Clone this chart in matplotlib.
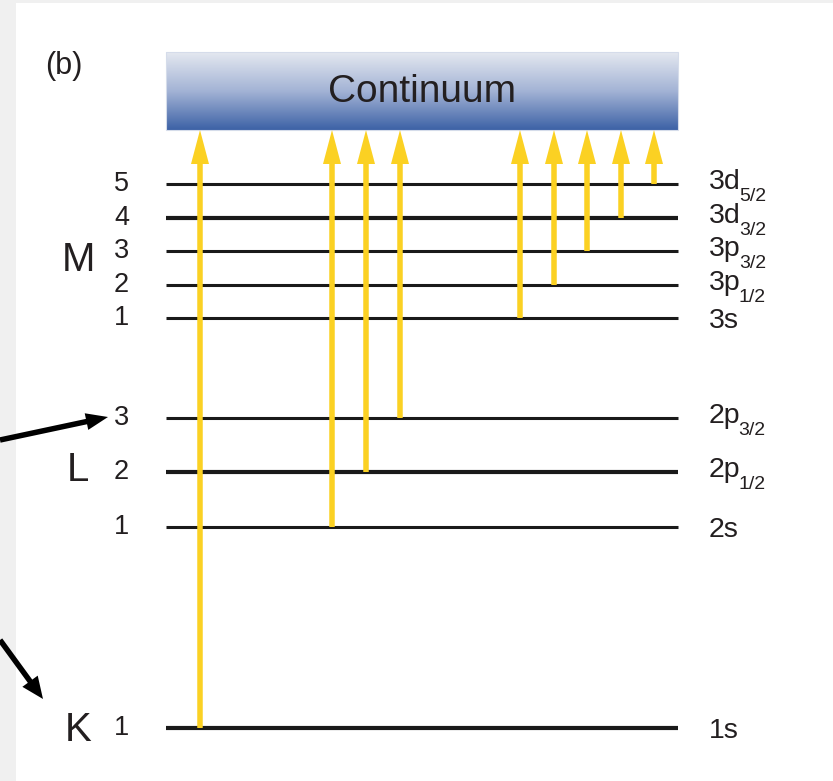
import numpy as np
import matplotlib
matplotlib.use("Agg")
import matplotlib.pyplot as plt
from matplotlib.colors import LinearSegmentedColormap
from matplotlib.patches import Rectangle

plt.rcParams['font.family'] = ['Liberation Sans', 'DejaVu Sans']

# level data (diagram units = pixels from top)
level_y = [728, 527, 472, 418, 318, 285, 251, 218, 184]
level_num = ['1', '1', '2', '3', '1', '2', '3', '4', '5']
level_main = ['1s', '2s', '2p', '2p', '3s', '3p', '3p', '3d', '3d']
level_sub = ['', '', '1/2', '3/2', '', '1/2', '3/2', '3/2', '5/2']
level_lw = [3.0, 2.2, 3.0, 2.2, 2.2, 2.2, 2.2, 3.0, 2.2]
arrow_x = [200, 332, 366, 400, 520, 554, 587, 621, 654]
shell_names = ['K', 'L', 'M']
shell_y = [730, 470, 260]

x0, x1 = 166, 678
cont_top, cont_bot = 52, 130
yellow = '#fbd123'
ink = '#231f20'

fig = plt.figure(figsize=(8.33, 7.81), dpi=100, facecolor='#f0f0f0')
ax = fig.add_axes([0, 0, 1, 1])
ax.set_xlim(0, 833)
ax.set_ylim(781, 0)
ax.axis('off')

ax.add_patch(Rectangle((16, 3), 833, 790, facecolor='white', edgecolor='none', zorder=0))

# continuum gradient
cmap = LinearSegmentedColormap.from_list('cont', ['#e4e8f0', '#a3b3d5', '#3d62a6'])
grad = np.linspace(0, 1, 200).reshape(-1, 1)
ax.imshow(grad, cmap=cmap, aspect='auto', extent=[x0, x1, cont_bot, cont_top], zorder=1)
ax.add_patch(Rectangle((x0, cont_top), x1 - x0, cont_bot - cont_top, fill=False,
                       edgecolor='#d5dcea', lw=0.8, zorder=2))
ax.text((x0 + x1) / 2, 92, 'Continuum', fontsize=28, ha='center', va='center',
        color=ink, zorder=3)

renderer = fig.canvas.get_renderer()

# levels
for y, n, main, sub, lw in zip(level_y, level_num, level_main, level_sub, level_lw):
    ax.plot([x0, x1], [y, y], color='#1a1a1a', lw=lw, solid_capstyle='butt', zorder=2)
    ax.text(129, y, n, fontsize=19.5, ha='right', va='center', color=ink)
    base = y + 5 if sub else y + 10
    t = ax.text(709, base, main, fontsize=20.5, ha='left', va='baseline', color=ink)
    if sub:
        bb = t.get_window_extent(renderer)
        xr = ax.transData.inverted().transform((bb.x1, bb.y0))[0]
        ax.text(xr - 2, base + 12, sub, fontsize=14, ha='left', va='baseline', color=ink)

for s, y in zip(shell_names, shell_y):
    ax.text(78, y, s, fontsize=29, ha='center', va='center', color=ink)

# ionisation arrows
for x, y in zip(arrow_x, sorted(level_y, reverse=True)):
    ax.arrow(x, y, 0, cont_bot - y, width=5.5, head_width=18, head_length=34,
             length_includes_head=True, color=yellow, lw=0, zorder=3)

# pointer arrows from the left
ax.arrow(0, 440, 108, -23, width=5.5, head_width=17, head_length=22,
         length_includes_head=True, color='black', lw=0, zorder=4)
ax.arrow(0, 640, 43, 59, width=5.5, head_width=19, head_length=22,
         length_includes_head=True, color='black', lw=0, zorder=4)

ax.text(45, 66, '(b)', fontsize=22, ha='left', va='center', color=ink)

fig.savefig('out.png', dpi=100, facecolor=fig.get_facecolor())
